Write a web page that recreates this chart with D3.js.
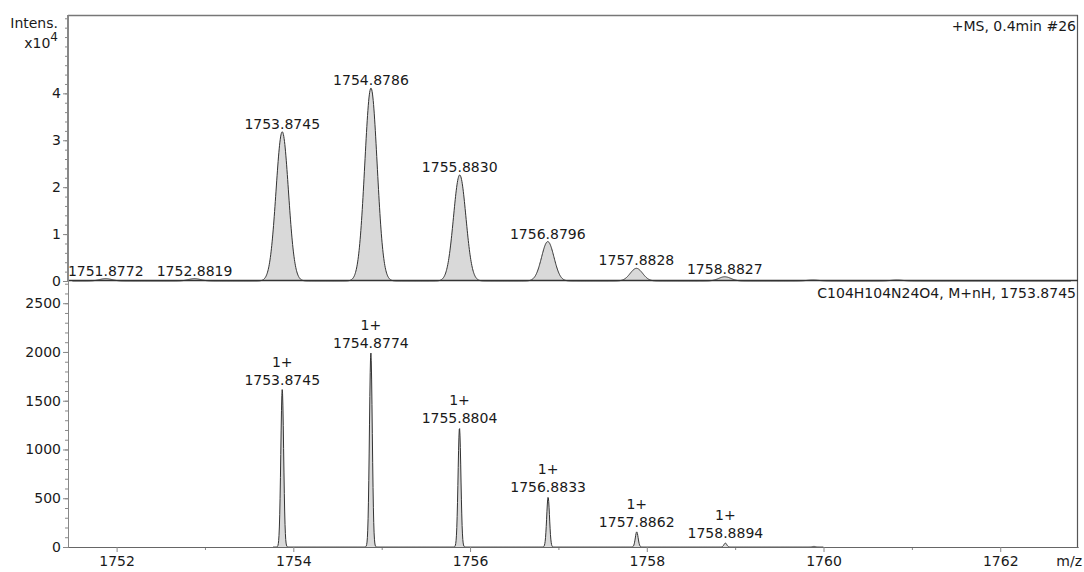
<!DOCTYPE html>
<html>
<head>
<meta charset="utf-8">
<script src="https://cdn.jsdelivr.net/npm/d3@7"></script>
<style>
  body { margin: 0; background: #fff; }
  svg text { font-family: "DejaVu Sans", Verdana, sans-serif; font-size: 14px; fill: #1a1a1a; }
</style>
</head>
<body>
<svg id="chart"></svg>
<script>
// measured spectrum (top), intensity in x10^4
const topMz = [1751.8772, 1752.8819, 1753.8745, 1754.8786, 1755.8830, 1756.8796, 1757.8828, 1758.8827];
const topInt = [0.05, 0.05, 3.18, 4.11, 2.26, 0.84, 0.27, 0.09];
const topLabels = ['1751.8772', '1752.8819', '1753.8745', '1754.8786', '1755.8830', '1756.8796', '1757.8828', '1758.8827'];
// small unlabelled blips on the baseline
const topNoiseMz = [1759.88, 1760.83];
const topNoiseInt = [0.02, 0.02];

// simulated isotope pattern (bottom)
const botMz = [1753.8745, 1754.8774, 1755.8804, 1756.8833, 1757.8862, 1758.8894, 1759.892];
const botInt = [1615, 1990, 1220, 510, 155, 40, 6];
const botLabels = ['1753.8745', '1754.8774', '1755.8804', '1756.8833', '1757.8862', '1758.8894', ''];
const botCharge = ['1+', '1+', '1+', '1+', '1+', '1+', ''];

const topTicks = [0, 1, 2, 3, 4];
const botTicks = [0, 500, 1000, 1500, 2000, 2500];
const xTicks = [1752, 1754, 1756, 1758, 1760, 1762];

const titleTop = '+MS, 0.4min #26';
const titleBot = 'C104H104N24O4, M+nH, 1753.8745';

const W = 1084, H = 572;
const plotL = 68, plotR = 1078, plotT = 15, plotMid = 281, plotB = 547;

const svg = d3.select('#chart').attr('width', W).attr('height', H);

const x = d3.scaleLinear().domain([1751.45, 1762.88]).range([plotL, plotR]);
const yTop = d3.scaleLinear().domain([0, 5.67]).range([plotMid, plotT]);
const yBot = d3.scaleLinear().domain([0, 2738]).range([plotB, plotMid - 1]);

// build a profile trace out of the peak list (gaussian peak shape)
function profile(mz, ints, sigma, x0, x1) {
	const pts = [];
	for (let m = x0; m <= x1 + 1e-9; m += 0.004) {
		let v = 0;
		mz.forEach((c, i) => {
			const d = (m - c) / sigma;
			if (Math.abs(d) < 6) v += ints[i] * Math.exp(-0.5 * d * d);
		});
		pts.push([m, v]);
	}
	return pts;
}

const topPts = profile(topMz.concat(topNoiseMz), topInt.concat(topNoiseInt), 0.07, 1751.5, 1762.8);
const botPts = profile(botMz, botInt, 0.016, 1753.77, 1760.0);

const areaTop = d3.area().x(d => x(d[0])).y0(yTop(0)).y1(d => yTop(d[1]));
const lineTop = d3.line().x(d => x(d[0])).y(d => yTop(d[1]));
const areaBot = d3.area().x(d => x(d[0])).y0(yBot(0)).y1(d => yBot(d[1]));
const lineBot = d3.line().x(d => x(d[0])).y(d => yBot(d[1]));

svg.append('path').datum(topPts).attr('d', areaTop).attr('fill', '#d9d9d9');
svg.append('path').datum(topPts).attr('d', lineTop)
	.attr('fill', 'none').attr('stroke', '#333').attr('stroke-width', 1);

svg.append('path').datum(botPts).attr('d', areaBot).attr('fill', '#d9d9d9');
svg.append('path').datum(botPts).attr('d', lineBot)
	.attr('fill', 'none').attr('stroke', '#333').attr('stroke-width', 1);

// frame
svg.append('line').attr('x1', plotL).attr('x2', plotR).attr('y1', plotT + 0.5).attr('y2', plotT + 0.5)
	.attr('stroke', '#777').attr('stroke-width', 1.5);
svg.append('line').attr('x1', plotR - 0.5).attr('x2', plotR - 0.5).attr('y1', plotT).attr('y2', plotB)
	.attr('stroke', '#555').attr('stroke-width', 1.2);
svg.append('line').attr('x1', plotL).attr('x2', plotR).attr('y1', plotMid - 0.5).attr('y2', plotMid - 0.5)
	.attr('stroke', '#333').attr('stroke-width', 1.5);

// axes
function styleAxis(g) {
	g.select('.domain').attr('stroke', '#888');
	g.selectAll('.tick line').attr('stroke', '#888');
	g.selectAll('.tick text').attr('fill', '#1a1a1a').style('font-size', '14px')
		.style('font-family', '"DejaVu Sans", Verdana, sans-serif');
}

const gTopMinor = svg.append('g').attr('transform', `translate(${plotL},0)`)
	.call(d3.axisLeft(yTop).tickValues(d3.range(0, 5.61, 0.2)).tickSize(3).tickFormat('').tickSizeOuter(0));
styleAxis(gTopMinor);
const gTop = svg.append('g').attr('transform', `translate(${plotL},0)`)
	.call(d3.axisLeft(yTop).tickValues(topTicks).tickSize(5).tickPadding(2)
		.tickFormat(d3.format('d')).tickSizeOuter(0));
styleAxis(gTop);
gTop.select('.domain').attr('d', `M-0.5,${plotMid}V${plotT}`);

const gBotMinor = svg.append('g').attr('transform', `translate(${plotL},0)`)
	.call(d3.axisLeft(yBot).tickValues(d3.range(0, 2701, 100)).tickSize(3).tickFormat('').tickSizeOuter(0));
styleAxis(gBotMinor);
const gBot = svg.append('g').attr('transform', `translate(${plotL},0)`)
	.call(d3.axisLeft(yBot).tickValues(botTicks).tickSize(5).tickPadding(2)
		.tickFormat(d3.format('d')).tickSizeOuter(0));
styleAxis(gBot);

const gxMinor = svg.append('g').attr('transform', `translate(0,${plotB})`)
	.call(d3.axisBottom(x).tickValues(d3.range(1753, 1763, 2)).tickSize(3).tickFormat('').tickSizeOuter(0));
styleAxis(gxMinor);
const gx = svg.append('g').attr('transform', `translate(0,${plotB})`)
	.call(d3.axisBottom(x).tickValues(xTicks).tickSize(5).tickPadding(4).tickFormat(d3.format('d')).tickSizeOuter(0));
styleAxis(gx);
gx.select('.domain').attr('stroke', '#666');

svg.append('text').attr('x', 1082).attr('y', 566).attr('text-anchor', 'end').text('m/z');

// y axis title
svg.append('text').attr('x', 58).attr('y', 28).attr('text-anchor', 'end').text('Intens.');
const xt = svg.append('text').attr('x', 58).attr('y', 48).attr('text-anchor', 'end');
xt.append('tspan').text('x10');
xt.append('tspan').attr('dy', -7).style('font-size', '12px').text('4');

// panel titles
svg.append('text').attr('x', 1076).attr('y', 31).attr('text-anchor', 'end').text(titleTop);
svg.append('text').attr('x', 1076).attr('y', 298).attr('text-anchor', 'end').text(titleBot);

// peak labels
svg.append('g').selectAll('text')
	.data(topMz)
	.join('text')
	.attr('x', d => x(d))
	.attr('y', (d, i) => yTop(topInt[i]) - 3)
	.attr('text-anchor', 'middle')
	.text((d, i) => topLabels[i]);

const bl = svg.append('g').selectAll('g')
	.data(botMz.filter((d, i) => botLabels[i] !== ''))
	.join('g');
bl.append('text')
	.attr('x', d => x(d))
	.attr('y', (d, i) => yBot(botInt[i]) - 5)
	.attr('text-anchor', 'middle')
	.text((d, i) => botLabels[i]);
bl.append('text')
	.attr('x', d => x(d))
	.attr('y', (d, i) => yBot(botInt[i]) - 23)
	.attr('text-anchor', 'middle')
	.text((d, i) => botCharge[i]);
</script>
</body>
</html>
